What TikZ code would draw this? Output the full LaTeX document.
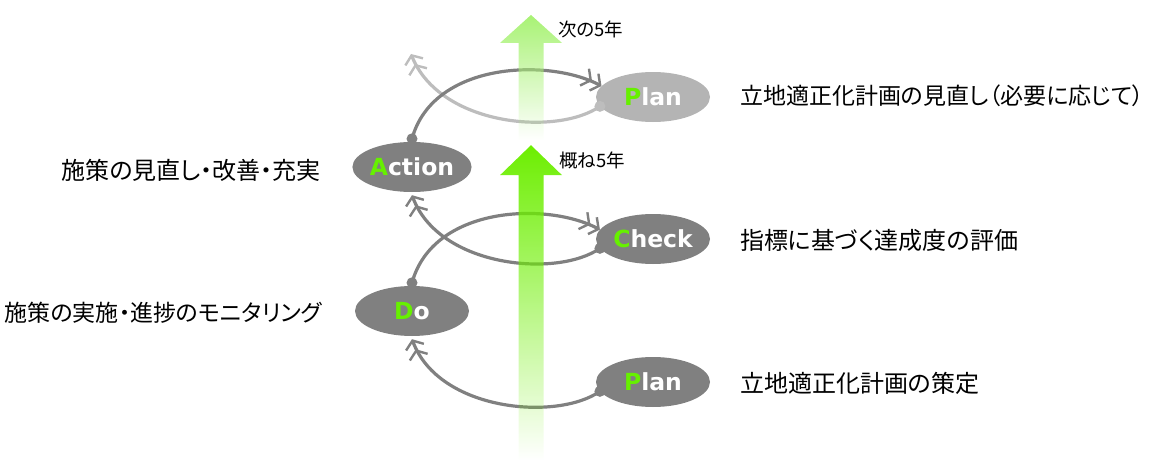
\documentclass[tikz,border=0pt]{standalone}
\usepackage{fontspec}
\newfontfamily\jp[RawFeature=+palt]{Noto Sans CJK JP}
\newfontfamily\lat{DejaVu Sans}
\usetikzlibrary{arrows.meta,shapes.geometric,fadings}
\definecolor{dgray}{HTML}{808080}
\definecolor{lgray}{HTML}{B4B4B4}
\definecolor{lcurve}{HTML}{BDBDBD}
\definecolor{pgreen}{HTML}{66F000}
\definecolor{agreen}{HTML}{6CEE00}
\definecolor{lgreen}{HTML}{A8F274}
\tikzfading[name=lowfade, top color=transparent!0, middle color=transparent!5, bottom color=transparent!100]
\tikzfading[name=upfade, top color=transparent!0, middle color=transparent!25, bottom color=transparent!100]
\begin{document}
\begin{tikzpicture}[x=1pt,y=-1pt,
  phase/.style={ellipse, fill=dgray, minimum width=114pt, minimum height=50pt, inner sep=0pt, text=white, font=\lat\bfseries\fontsize{23.5}{24}\selectfont},
  lbl/.style={inner sep=0pt, font=\jp\fontsize{24}{28}\selectfont},
  yr/.style={inner sep=0pt, anchor=west, font=\jp\fontsize{18.5}{20}\selectfont},
  conn/.style={line width=3.2pt, -{Straight Barb[length=7pt,width=19pt,line width=2.4pt,sep=1pt] Straight Barb[length=7pt,width=19pt,line width=2.4pt]}},
  dot/.style={circle, inner sep=0pt, minimum size=11pt}
]
\useasboundingbox (0,0) rectangle (1161,460);

% phase ellipses
\node[phase, fill=lgray] (PT) at (653,97) {{\color{pgreen}P}lan};
\node[phase] (A) at (412,167) {{\color{pgreen}A}ction};
\node[phase] (C) at (653,239) {{\color{pgreen}C}heck};
\node[phase] (D) at (412,311) {{\color{pgreen}D}o};
\node[phase] (PB) at (653,382) {{\color{pgreen}P}lan};

% start dots
\node[dot, fill=lcurve] (sPT) at (PT.190) {};
\node[dot, fill=dgray] (sA) at ([yshift=3pt]A.north) {};
\node[dot, fill=dgray] (sC) at (C.190) {};
\node[dot, fill=dgray] (sD) at ([yshift=3pt]D.north) {};
\node[dot, fill=dgray] (sPB) at (PB.190) {};
\coordinate (ePT) at (411,54);

% connectors
\draw[conn, draw=lcurve] (sPT.center) .. controls +(-43,30) and +(29,72) .. (ePT);
\draw[conn, draw=dgray] (sA.center) .. controls +(21,-77) and +(-53,-28) .. (PT.168);
\draw[conn, draw=dgray] (sC.center) .. controls +(-43,30) and +(27,72) .. ([yshift=-3pt]A.south);
\draw[conn, draw=dgray] (sD.center) .. controls +(21,-77) and +(-53,-28) .. (C.170);
\draw[conn, draw=dgray] (sPB.center) .. controls +(-43,30) and +(27,72) .. ([yshift=-3pt]D.south);

% green arrows
\fill[lgreen, path fading=upfade] (518.5,140) -- (518.5,43) -- (500,43) -- (531,15) -- (562,43) -- (543.5,43) -- (543.5,140) -- cycle;
\fill[agreen, path fading=lowfade] (518.5,460) -- (518.5,175) -- (500,175) -- (531,145) -- (562,175) -- (543.5,175) -- (543.5,460) -- cycle;

% year labels
\node[yr] (y1) at (558,29) {次の5年};
\node[yr] (y2) at (559,160) {概ね5年};

% right labels
\node[lbl, anchor=west, font=\jp\fontsize{23}{28}\selectfont] (rPT) at (740,96) {立地適正化計画の見直し（必要に応じて）};
\node[lbl, anchor=west] (rC) at (740,240) {指標に基づく達成度の評価};
\node[lbl, anchor=west] (rPB) at (740,383) {立地適正化計画の策定};

% left labels
\node[lbl, anchor=east] (lA) at (321,170) {施策の見直し・改善・充実};
\node[lbl, anchor=east, font=\jp\fontsize{23}{28}\selectfont] (lD) at (322,313) {施策の実施・進捗のモニタリング};
\end{tikzpicture}
\end{document}
